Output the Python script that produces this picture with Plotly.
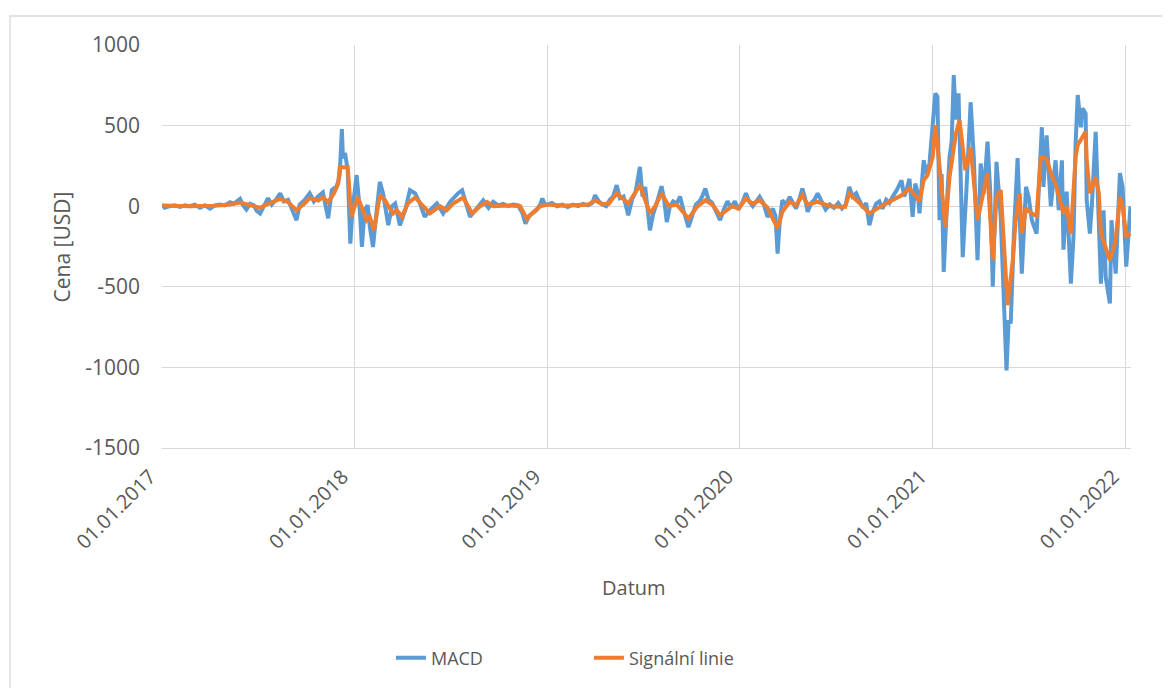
import plotly.graph_objects as go

# MACD (blue), USD
macd_dates = [
    "2017-01-01", "2017-01-06", "2017-01-16", "2017-01-25", "2017-02-04", "2017-02-13", "2017-02-23", "2017-03-04",
    "2017-03-14", "2017-03-23", "2017-04-02", "2017-04-11", "2017-04-21", "2017-04-30", "2017-05-10", "2017-05-17",
    "2017-05-29", "2017-06-03", "2017-06-10", "2017-06-17", "2017-06-24", "2017-06-30", "2017-07-06", "2017-07-11",
    "2017-07-21", "2017-07-28", "2017-08-05", "2017-08-13", "2017-08-20", "2017-08-28", "2017-09-04", "2017-09-13",
    "2017-09-19", "2017-09-29", "2017-10-08", "2017-10-16", "2017-10-24", "2017-11-02", "2017-11-12", "2017-11-19",
    "2017-11-27", "2017-12-01", "2017-12-04", "2017-12-08", "2017-12-10", "2017-12-14", "2017-12-19", "2017-12-24",
    "2017-12-28",
    "2018-01-05", "2018-01-11", "2018-01-15", "2018-01-20", "2018-01-26", "2018-01-30", "2018-02-05", "2018-02-12",
    "2018-02-18", "2018-02-24", "2018-03-06", "2018-03-13", "2018-03-19", "2018-03-28", "2018-04-07", "2018-04-16",
    "2018-04-26", "2018-05-05", "2018-05-14", "2018-05-24", "2018-06-06", "2018-06-18", "2018-07-01", "2018-07-16",
    "2018-07-24", "2018-08-08", "2018-08-21", "2018-09-02", "2018-09-12", "2018-09-21", "2018-09-30", "2018-10-10",
    "2018-10-19", "2018-10-29", "2018-11-07", "2018-11-15", "2018-11-21", "2018-11-28", "2018-12-06", "2018-12-13",
    "2018-12-19", "2018-12-23", "2018-12-28",
    "2019-01-01", "2019-01-10", "2019-01-20", "2019-01-30", "2019-02-09", "2019-02-19", "2019-03-01", "2019-03-10",
    "2019-03-20", "2019-03-28", "2019-04-02", "2019-04-09", "2019-04-16", "2019-04-23", "2019-04-30", "2019-05-06",
    "2019-05-13", "2019-05-19", "2019-05-26", "2019-06-04", "2019-06-11", "2019-06-18", "2019-06-26", "2019-07-01",
    "2019-07-06", "2019-07-15", "2019-07-21", "2019-07-28", "2019-08-06", "2019-08-11", "2019-08-16", "2019-08-22",
    "2019-08-28", "2019-09-04", "2019-09-10", "2019-09-17", "2019-09-26", "2019-10-03", "2019-10-10", "2019-10-17",
    "2019-10-22", "2019-10-28", "2019-11-03", "2019-11-10", "2019-11-17", "2019-11-25", "2019-12-02", "2019-12-09",
    "2019-12-16", "2019-12-23", "2019-12-30",
    "2020-01-06", "2020-01-13", "2020-01-19", "2020-01-26", "2020-02-01", "2020-02-08", "2020-02-15", "2020-02-23",
    "2020-03-04", "2020-03-09", "2020-03-13", "2020-03-17", "2020-03-22", "2020-03-29", "2020-04-05", "2020-04-11",
    "2020-04-17", "2020-04-23", "2020-04-29", "2020-05-04", "2020-05-09", "2020-05-16", "2020-05-22", "2020-05-28",
    "2020-06-05", "2020-06-12", "2020-06-20", "2020-06-28", "2020-07-06", "2020-07-13", "2020-07-20", "2020-07-27",
    "2020-08-02", "2020-08-09", "2020-08-15", "2020-08-22", "2020-08-28", "2020-09-03", "2020-09-09", "2020-09-16",
    "2020-09-22", "2020-09-28", "2020-10-05", "2020-10-11", "2020-10-17", "2020-10-25", "2020-11-03", "2020-11-08",
    "2020-11-12", "2020-11-18", "2020-11-24", "2020-11-29", "2020-12-04", "2020-12-07", "2020-12-15", "2020-12-20",
    "2020-12-26", "2020-12-30",
    "2021-01-06", "2021-01-10", "2021-01-14", "2021-01-18", "2021-01-22", "2021-01-29", "2021-02-02", "2021-02-06",
    "2021-02-10", "2021-02-14", "2021-02-19", "2021-02-23", "2021-02-27", "2021-03-06", "2021-03-14", "2021-03-20",
    "2021-03-27", "2021-04-02", "2021-04-08", "2021-04-15", "2021-04-20", "2021-04-25", "2021-05-02", "2021-05-10",
    "2021-05-16", "2021-05-21", "2021-05-25", "2021-05-29", "2021-06-04", "2021-06-11", "2021-06-19", "2021-06-27",
    "2021-07-02", "2021-07-08", "2021-07-17", "2021-07-25", "2021-07-27", "2021-07-30", "2021-08-05", "2021-08-13",
    "2021-08-22", "2021-08-28", "2021-09-03", "2021-09-06", "2021-09-12", "2021-09-20", "2021-09-25", "2021-09-29",
    "2021-10-03", "2021-10-09", "2021-10-12", "2021-10-18", "2021-10-20", "2021-10-26", "2021-10-30", "2021-11-06",
    "2021-11-12", "2021-11-16", "2021-11-21", "2021-11-25", "2021-12-03", "2021-12-06", "2021-12-14", "2021-12-22",
    "2021-12-27", "2022-01-03", "2022-01-11",
]
macd_values = [
    10, -10, 0, 5, -5, 5, 0, 10,
    -10, 5, -15, 5, 10, 5, 25, 15,
    45, 10, -20, 15, 5, -30, -45, -15,
    50, 10, 40, 80, 30, 40, -10, -87,
    10, 40, 80, 30, 60, 85, -75, 100,
    120, 150, 200, 478, 300, 330, 224, -232,
    -25,
    193, -25, -253, -25, 6, -128, -253, -25,
    151, 79, -118, 0, 17, -118, -25, 99,
    79, 17, -66, -25, 17, -45, 27, 79,
    99, -66, -15, 37, -10, 27, 5, 15,
    0, 10, 5, -40, -108, -60, -40, -20,
    10, 48, 10,
    10, 20, 0, 10, -5, 10, 0, 15,
    5, 20, 68, 30, 10, 0, 40, 60,
    130, 50, 60, -56, 40, 90, 244, 60,
    120, -150, -50, 20, 124, 40, -98, 0,
    30, 17, 60, -30, -130, -60, 10, 30,
    60, 110, 40, 20, -30, -87, -20, 30,
    -10, 30, -20,
    20, 80, 30, 0, 30, 58, 20, -66,
    -15, -60, -294, -100, 37, 10, 58, 20,
    -15, 40, 110, 50, -35, 20, 40, 79,
    20, -20, 10, -10, 20, -15, 10, 120,
    60, 80, 37, -10, 20, -118, -40, 17,
    30, -15, 40, 20, 58, 100, 160, 60,
    96, 170, -66, 140, 79, -45, 285, 200,
    265, 410,
    700, 680, -87, 200, -408, 80, 305, 400,
    813, 537, 700, 200, -316, 100, 645, 300,
    -335, 265, 80, 400, 100, -500, 275, -66,
    -583, -1018, -708, -727, -170, 298, -418, 120,
    56, -87, -170, 472, 490, 120, 440, 0,
    285, -25, 285, -270, 90, -480, -190, 390,
    690, 490, 607, 575, 37, -170, 17, 462,
    -25, -480, -25, -440, -603, -87, -418, 205,
    120, -375, 0,
]

# Signal line (orange)
signal_dates = [
    "2017-01-01", "2017-02-23", "2017-04-11", "2017-05-10", "2017-05-29", "2017-06-17", "2017-07-06", "2017-07-21",
    "2017-08-13", "2017-08-28", "2017-09-13", "2017-09-29", "2017-10-08", "2017-10-24", "2017-11-02", "2017-11-12",
    "2017-11-23", "2017-12-01", "2017-12-04", "2017-12-19", "2017-12-26",
    "2018-01-07", "2018-01-17", "2018-01-24", "2018-01-30", "2018-02-07", "2018-02-18", "2018-02-28", "2018-03-06",
    "2018-03-15", "2018-03-22", "2018-04-01", "2018-04-12", "2018-04-26", "2018-05-11", "2018-05-24", "2018-06-12",
    "2018-06-25", "2018-07-07", "2018-07-26", "2018-08-12", "2018-08-27", "2018-09-09", "2018-09-21", "2018-10-23",
    "2018-11-11", "2018-11-24", "2018-11-30", "2018-12-19",
    "2019-01-01", "2019-02-01", "2019-03-01", "2019-03-20", "2019-04-02", "2019-04-15", "2019-04-28", "2019-05-13",
    "2019-06-04", "2019-06-26", "2019-07-15", "2019-07-25", "2019-08-06", "2019-08-20", "2019-09-04", "2019-09-26",
    "2019-10-12", "2019-10-28", "2019-11-10", "2019-11-25", "2019-12-18", "2019-12-30",
    "2020-01-13", "2020-01-26", "2020-02-08", "2020-02-23", "2020-03-13", "2020-03-22", "2020-04-05", "2020-04-17",
    "2020-04-29", "2020-05-09", "2020-05-28", "2020-06-20", "2020-07-19", "2020-07-27", "2020-08-15", "2020-09-03",
    "2020-09-28", "2020-10-17", "2020-11-03", "2020-11-18", "2020-12-07", "2020-12-15", "2020-12-22",
    "2021-01-01", "2021-01-06", "2021-01-14", "2021-01-25", "2021-02-02", "2021-02-14", "2021-02-21", "2021-03-04",
    "2021-03-14", "2021-03-27", "2021-04-15", "2021-04-25", "2021-05-02", "2021-05-10", "2021-05-23", "2021-05-29",
    "2021-06-02", "2021-06-07", "2021-06-15", "2021-06-19", "2021-06-27", "2021-07-08", "2021-07-17", "2021-07-25",
    "2021-08-05", "2021-08-13", "2021-08-22", "2021-09-06", "2021-09-12", "2021-09-20", "2021-09-29", "2021-10-03",
    "2021-10-12", "2021-10-18", "2021-10-20", "2021-10-26", "2021-11-06", "2021-11-12", "2021-11-16", "2021-11-25",
    "2021-12-03", "2021-12-14", "2021-12-22", "2021-12-27", "2022-01-03", "2022-01-11",
]
signal_values = [
    5, 0, 3, 10, 22, 5, -10, 15,
    45, 25, -25, 20, 50, 35, 55, 25,
    80, 140, 242, 242, -66,
    58, -25, -87, -66, -150, 68, 37, 0,
    -45, -25, -66, 17, 54, 0, -45, 0,
    -25, 17, 54, -45, 0, 27, 0, 5,
    0, -80, -56, 0,
    10, 3, 8, 10, 37, 12, 15, 80,
    17, 130, -45, 0, 80, 0, 10, -77,
    -5, 37, 10, -56, 0, -15,
    48, 15, 37, -10, -137, -35, 27, 5,
    68, 10, 27, 0, -5, 79, 20, -45,
    5, 37, 68, 110, 30, 160, 192,
    305, 503, 250, -130, 180, 450, 534, 223,
    365, -87, 205, -335, 56, 100, -614, -420,
    -335, -100, 80, -170, -15, -45, -60, 305,
    295, 205, 140, -45, 0, -170, 305, 380,
    430, 462, 285, 80, 180, 80, -170, -250,
    -335, -210, 56, 0, -190, -170,
]

year_ticks = ["2017-01-01", "2018-01-01", "2019-01-01", "2020-01-01", "2021-01-01", "2022-01-01"]
year_labels = ["01.01.2017", "01.01.2018", "01.01.2019", "01.01.2020", "01.01.2021", "01.01.2022"]
y_ticks = [-1500, -1000, -500, 0, 500, 1000]
y_labels = ["-1500", "-1000", "-500", "0", "500", "1000"]

FONT = "Open Sans"
TXT = "#595959"
GRID = "#D9D9D9"

fig = go.Figure()
fig.add_trace(go.Scatter(x=macd_dates, y=macd_values, mode="lines", name="MACD",
                         line=dict(color="#5B9BD5", width=4)))
fig.add_trace(go.Scatter(x=signal_dates, y=signal_values, mode="lines", name="Signální linie",
                         line=dict(color="#ED7D31", width=4)))

# page body has an 8px margin, so the figure is 8px smaller than the window
fig.update_layout(
    width=1162, height=680, autosize=False,
    margin=dict(l=154, r=39, t=37, b=240),
    paper_bgcolor="white", plot_bgcolor="white",
    font=dict(family=FONT, color=TXT, size=19),
    showlegend=True,
    legend=dict(orientation="h", x=0.4406, xanchor="center", y=-0.521, yanchor="middle",
                font=dict(size=18, color=TXT), entrywidth=153, entrywidthmode="pixels"),
)
fig.update_xaxes(
    type="date", range=["2017-01-01", "2022-01-12"],
    tickvals=year_ticks, ticktext=year_labels, tickangle=-45,
    showgrid=True, gridcolor=GRID, gridwidth=1.3,
    showline=True, linecolor=GRID, linewidth=1.3,
    ticks="", ticklabelstandoff=8, ticklabelshift=-12,
    tickfont=dict(size=20, color=TXT),
)
fig.update_yaxes(
    range=[-1500, 1000], tickvals=y_ticks, ticktext=y_labels,
    showgrid=True, gridcolor=GRID, gridwidth=1.3, zeroline=False,
    ticks="", ticklabelstandoff=21, tickfont=dict(size=21, color=TXT),
)

# axis titles
fig.add_annotation(text="Cena [USD]", xref="paper", yref="paper", x=-0.1032, y=0.5,
                   textangle=-90, showarrow=False, font=dict(size=21, color=TXT),
                   xanchor="center", yanchor="middle")
fig.add_annotation(text="Datum", xref="paper", yref="paper", x=0.4871, y=-0.345,
                   showarrow=False, font=dict(size=20, color=TXT),
                   xanchor="center", yanchor="middle")

# chart area border
fig.add_shape(type="rect", xref="paper", yref="paper",
              x0=-0.1569, x1=1.0382, y0=-0.625, y1=1.072,
              line=dict(color=GRID, width=1.3), layer="below")

fig.write_html("out.html")
